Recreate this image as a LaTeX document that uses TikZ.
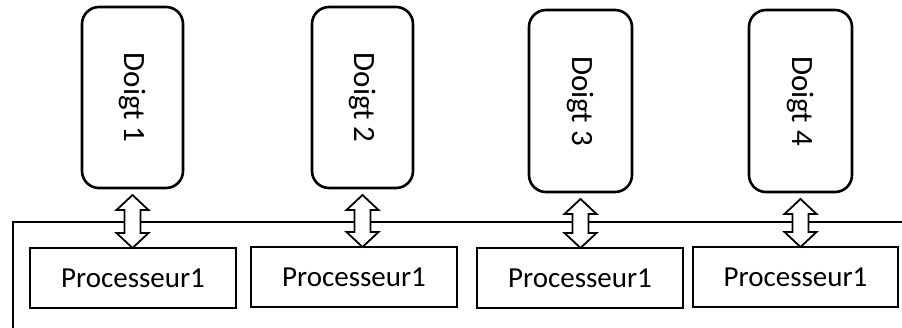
\documentclass[tikz,border=0pt]{standalone}
\usepackage{fontspec}
\setmainfont{Carlito}
\usetikzlibrary{calc}
\tikzset{
  doigt/.style={draw, line width=2.6pt, rounded corners=17pt, minimum width=101pt,
    minimum height=181pt, inner sep=0pt, outer sep=0pt,
    font=\fontsize{31}{36}\selectfont},
  proc/.style={draw, line width=2.6pt, minimum width=206pt, minimum height=60pt,
    inner sep=0pt, outer sep=0pt, font=\fontsize{29}{34}\selectfont},
  frame/.style={line width=2pt},
  link/.style={draw, fill=white, line width=1.8pt, line join=miter}
}
% double-headed block arrow from just below a finger box to the top of a processor box
\newcommand{\dblarrow}[2]{%
  \path[link] let \p1=(#1.south), \p2=(#2.north),
    \n1={\y1-7pt} in
    (\x1,\n1) -- (\x1+16pt,\n1-15pt) -- (\x1+8pt,\n1-15pt) --
    (\x1+8pt,\y2+15pt) -- (\x1+16pt,\y2+15pt) -- (\x1,\y2) --
    (\x1-16pt,\y2+15pt) -- (\x1-8pt,\y2+15pt) --
    (\x1-8pt,\n1-15pt) -- (\x1-16pt,\n1-15pt) -- cycle;}
\begin{document}
\begin{tikzpicture}[x=1pt,y=-1pt]
\useasboundingbox (0,0) rectangle (902,327);

% enclosing frame (only its top and left sides fall inside the picture)
\coordinate (fbl) at (13,332);
\coordinate (ftl) at (13,222);
\coordinate (ftr) at (906,222);
\draw[frame] (fbl) -- (ftl) -- (ftr);

% fingers
\node[doigt] (d1) at (132.5,97.5) {\rotatebox{-90}{Doigt 1}};
\node[doigt] (d2) at (362.5,97.5) {\rotatebox{-90}{Doigt 2}};
\node[doigt, minimum width=103pt, minimum height=182pt] (d3) at (580.5,101) {\rotatebox{-90}{Doigt 3}};
\node[doigt, minimum width=103pt, minimum height=182pt] (d4) at (800.5,101) {\rotatebox{-90}{Doigt 4}};

% processors
\node[proc] (p1) at (133,278) {Processeur1};
\node[proc] (p2) at (354,277) {Processeur1};
\node[proc] (p3) at (580,278) {Processeur1};
\node[proc, minimum width=205pt] (p4) at (795.5,277) {Processeur1};

% links
\dblarrow{d1}{p1}
\dblarrow{d2}{p2}
\dblarrow{d3}{p3}
\dblarrow{d4}{p4}
\end{tikzpicture}
\end{document}
